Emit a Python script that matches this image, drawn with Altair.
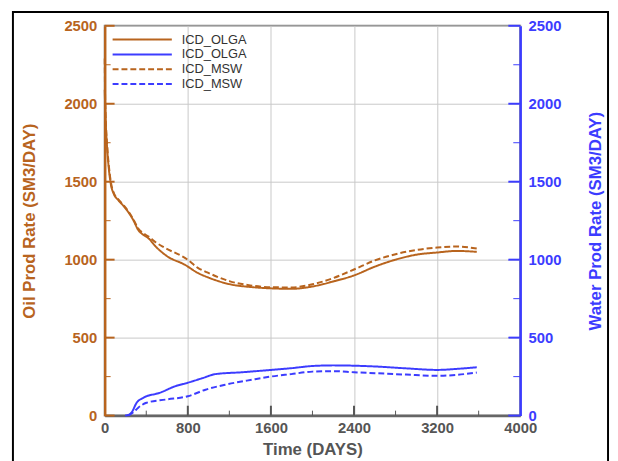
import altair as alt
import pandas as pd

# ---- data ----
oil_olga_t = [0, 7, 25, 40, 60, 86, 133, 180, 228, 276, 323, 370, 418, 494, 608, 770, 893, 1000, 1207, 1400, 1600, 1800, 2000, 2200, 2400, 2600, 2800, 3000, 3200, 3392, 3582]
oil_olga_v = [2090, 1930, 1700, 1580, 1480, 1424, 1380, 1345, 1304, 1253, 1190, 1160, 1139, 1082, 1019, 968, 916, 885, 842, 825, 816, 813, 828, 860, 899, 955, 1000, 1032, 1046, 1056, 1050]

oil_msw_t = [0, 5, 25, 40, 60, 86, 133, 180, 228, 276, 323, 370, 418, 494, 580, 798, 893, 988, 1207, 1400, 1600, 1800, 2000, 2200, 2400, 2600, 2800, 3000, 3200, 3392, 3582]
oil_msw_v = [2290, 2000, 1720, 1600, 1495, 1430, 1385, 1350, 1310, 1258, 1200, 1170, 1150, 1110, 1076, 1000, 949, 918, 861, 835, 823, 822, 842, 882, 937, 995, 1035, 1062, 1078, 1084, 1071]

water_olga_t = [196, 230, 260, 307, 371, 529, 686, 800, 941, 1066, 1322, 1605, 1795, 2000, 2200, 2400, 2603, 2900, 3200, 3400, 3582]
water_olga_v = [0, 5, 21, 82, 114, 146, 190, 211, 240, 266, 278, 293, 304, 318, 322, 320, 315, 303, 293, 300, 310]

water_msw_t = [228, 276, 323, 402, 589, 800, 970, 1160, 1417, 1605, 1795, 2000, 2200, 2400, 2603, 2900, 3200, 3400, 3582]
water_msw_v = [0, 21, 51, 82, 103, 124, 166, 198, 230, 251, 266, 282, 285, 278, 272, 263, 255, 262, 276]

x_ticks = [0, 800, 1600, 2400, 3200, 4000]
x_major_inner = [800, 1600, 2400, 3200]
x_minor = [400, 1200, 2000, 2800, 3600]
y_ticks = [0, 500, 1000, 1500, 2000, 2500]
y_minor = [250, 750, 1250, 1750, 2250]

series_keys = ["OLGA_oil", "OLGA_water", "MSW_oil", "MSW_water"]

ORANGE = "#B8641E"
BLUE = "#3C3CFF"
GRAY = "#555555"
FONT = "Liberation Sans"
W, H = 421, 395


def frame(t, v, key):
    return pd.DataFrame({"t": t, "v": v, "series": key})


oil_df = pd.concat([frame(oil_olga_t, oil_olga_v, "OLGA_oil"),
                    frame(oil_msw_t, oil_msw_v, "MSW_oil")])
water_df = pd.concat([frame(water_olga_t, water_olga_v, "OLGA_water"),
                      frame(water_msw_t, water_msw_v, "MSW_water")])

xscale = alt.Scale(domain=[0, 4000], nice=False, zero=False)
oil_scale = alt.Scale(domain=[0, 2500], nice=False)
water_scale = alt.Scale(domain=[0, 2500], nice=False)

color_scale = alt.Scale(domain=series_keys, range=[ORANGE, BLUE, ORANGE, BLUE])
dash_scale = alt.Scale(domain=series_keys, range=[[1, 0], [1, 0], [6, 3], [6, 3]])
width_scale = alt.Scale(domain=series_keys, range=[2, 2, 1.5, 1.5])

legend = alt.Legend(
    title=None, orient="none", legendX=30, legendY=6, padding=0,
    symbolType="M-4.2857,0H4.2857", symbolSize=196, symbolStrokeWidth=2,
    labelExpr="indexof(datum.label, 'OLGA') >= 0 ? 'ICD_OLGA' : 'ICD_MSW'",
    labelFont=FONT, labelFontSize=13, labelColor="#333333", labelOffset=32,
    rowPadding=0,
)

x_axis = alt.Axis(
    values=x_ticks, format="d", grid=True, gridColor="#c8c8c8", gridWidth=1,
    domainColor="#666666", domainWidth=2.5, ticks=False,
    labelColor=GRAY, labelFont=FONT, labelFontSize=15, labelFontWeight="bold",
    labelPadding=5, labelFlush=False,
    title="Time (DAYS)", titleColor=GRAY, titleFont=FONT, titleFontSize=17,
    titleFontWeight="bold", titleX=W / 2, titleY=34, titleBaseline="middle",
    titleAlign="center",
)

oil_axis = alt.Axis(
    orient="left", values=y_ticks, format="d", grid=True, gridColor="#c8c8c8",
    gridWidth=1, domainColor=ORANGE, domainWidth=2.5, ticks=False,
    labelColor=ORANGE, labelFont=FONT, labelFontSize=15, labelFontWeight="bold",
    labelPadding=8, labelFlush=False,
    title="Oil Prod Rate (SM3/DAY)", titleColor=ORANGE, titleFont=FONT,
    titleFontSize=17, titleFontWeight="bold", titleX=-76, titleY=H / 2,
    titleAngle=270, titleBaseline="middle", titleAlign="center",
)

water_axis = alt.Axis(
    orient="right", values=y_ticks, format="d", grid=False,
    domainColor=BLUE, domainWidth=2.5, ticks=False,
    labelColor=BLUE, labelFont=FONT, labelFontSize=15, labelFontWeight="bold",
    labelPadding=8, labelFlush=False,
    title="Water Prod Rate (SM3/DAY)", titleColor=BLUE, titleFont=FONT,
    titleFontSize=17, titleFontWeight="bold", titleX=76, titleY=H / 2,
    titleAngle=270, titleBaseline="middle", titleAlign="center",
)

oil_lines = alt.Chart(oil_df).mark_line(interpolate="monotone").encode(
    x=alt.X("t:Q", scale=xscale, axis=x_axis),
    y=alt.Y("v:Q", scale=oil_scale, axis=oil_axis),
    color=alt.Color("series:N", scale=color_scale, legend=legend),
    strokeDash=alt.StrokeDash("series:N", scale=dash_scale, legend=legend),
    strokeWidth=alt.StrokeWidth("series:N", scale=width_scale, legend=None),
)

water_lines = alt.Chart(water_df).mark_line(interpolate="monotone").encode(
    x=alt.X("t:Q", scale=xscale, axis=x_axis),
    y=alt.Y("v:Q", scale=water_scale, axis=water_axis),
    color=alt.Color("series:N", scale=color_scale, legend=legend),
    strokeDash=alt.StrokeDash("series:N", scale=dash_scale, legend=legend),
    strokeWidth=alt.StrokeWidth("series:N", scale=width_scale, legend=None),
)

left_major = alt.Chart(pd.DataFrame({"v": y_ticks})).mark_rule(color=ORANGE, strokeWidth=2).encode(
    y=alt.Y("v:Q", scale=oil_scale, axis=oil_axis), x=alt.value(0), x2=alt.value(10))
left_minor = alt.Chart(pd.DataFrame({"v": y_minor})).mark_rule(color=ORANGE, strokeWidth=1).encode(
    y=alt.Y("v:Q", scale=oil_scale, axis=oil_axis), x=alt.value(0), x2=alt.value(6))
bottom_major = alt.Chart(pd.DataFrame({"t": x_major_inner})).mark_rule(color=GRAY, strokeWidth=2).encode(
    x=alt.X("t:Q", scale=xscale, axis=x_axis), y=alt.value(H), y2=alt.value(H - 10))
bottom_minor = alt.Chart(pd.DataFrame({"t": x_minor})).mark_rule(color=GRAY, strokeWidth=1).encode(
    x=alt.X("t:Q", scale=xscale, axis=x_axis), y=alt.value(H), y2=alt.value(H - 5))
right_major = alt.Chart(pd.DataFrame({"v": y_ticks})).mark_rule(color=BLUE, strokeWidth=2).encode(
    y=alt.Y("v:Q", scale=water_scale, axis=water_axis), x=alt.value(W), x2=alt.value(W - 12))
right_minor = alt.Chart(pd.DataFrame({"v": y_minor})).mark_rule(color=BLUE, strokeWidth=1).encode(
    y=alt.Y("v:Q", scale=water_scale, axis=water_axis), x=alt.value(W), x2=alt.value(W - 7))

border = alt.Chart(pd.DataFrame({"a": [0]})).mark_rect(
    filled=False, stroke="black", strokeWidth=2).encode(
    x=alt.value(-93), x2=alt.value(510), y=alt.value(-14), y2=alt.value(H + 60))

oil_layer = alt.layer(oil_lines, left_major, left_minor, bottom_major, bottom_minor)
water_layer = alt.layer(water_lines, right_major, right_minor)

chart = alt.layer(oil_layer, water_layer, border).resolve_scale(
    y="independent"
).properties(
    width=W, height=H,
    autosize=alt.AutoSizeParams(type="none"),
    padding={"left": 98, "top": 15, "right": 91, "bottom": 43},
).configure(font=FONT).configure_view(stroke="#888888", strokeWidth=2)

chart.save("out.html", embed_options={"renderer": "svg", "actions": False})
